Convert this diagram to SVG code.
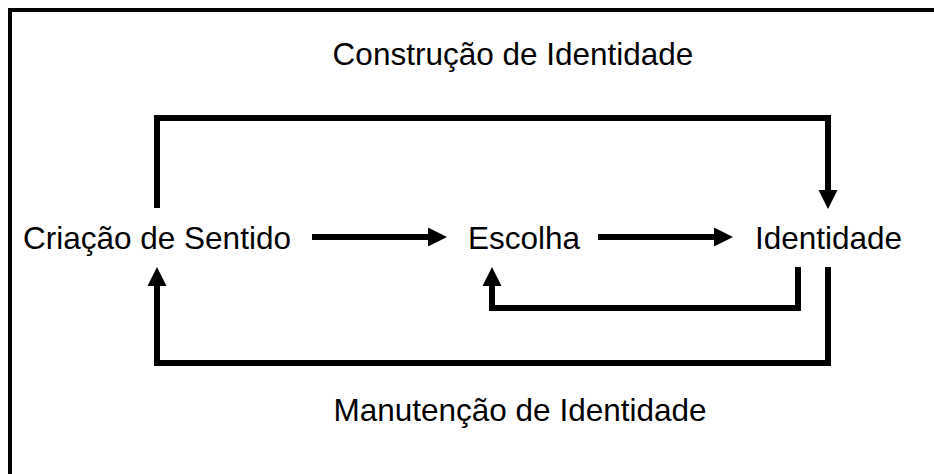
<svg xmlns="http://www.w3.org/2000/svg" width="934" height="474" viewBox="0 0 934 474">
<style>
  text { font-family: "Liberation Sans", Arial, sans-serif; font-size: 31.5px; fill: #000; }
  .conn { fill: none; stroke: #000; stroke-width: 6; stroke-linejoin: miter; stroke-linecap: butt; }
  .frame { fill: none; stroke: #000; stroke-width: 4; }
</style>
<defs>
  <marker id="ah" markerUnits="userSpaceOnUse" markerWidth="20" markerHeight="20" refX="0" refY="9.5" orient="auto" overflow="visible">
    <path d="M0,0 L19,9.5 L0,19 Z" fill="#000"/>
  </marker>
</defs>
<rect width="934" height="474" fill="#fff"/>
<path class="frame" d="M10,474 V10 H934"/>
<g id="label-construcao"><text x="513" y="65" text-anchor="middle">Construção de Identidade</text></g>
<g id="label-manutencao"><text x="520" y="421" text-anchor="middle">Manutenção de Identidade</text></g>
<g id="node-criacao"><text x="23" y="249">Criação de Sentido</text></g>
<g id="node-escolha"><text x="468" y="249">Escolha</text></g>
<g id="node-identidade"><text x="755" y="249">Identidade</text></g>
<g id="connectors">
  <path class="conn" d="M157,208 V118 H828 V190" marker-end="url(#ah)"/>
  <path class="conn" d="M312,237 H428" marker-end="url(#ah)"/>
  <path class="conn" d="M598,237 H714" marker-end="url(#ah)"/>
  <path class="conn" d="M798,267 V308 H492 V286" marker-end="url(#ah)"/>
  <path class="conn" d="M828,267 V363 H157 V286" marker-end="url(#ah)"/>
</g>
</svg>
